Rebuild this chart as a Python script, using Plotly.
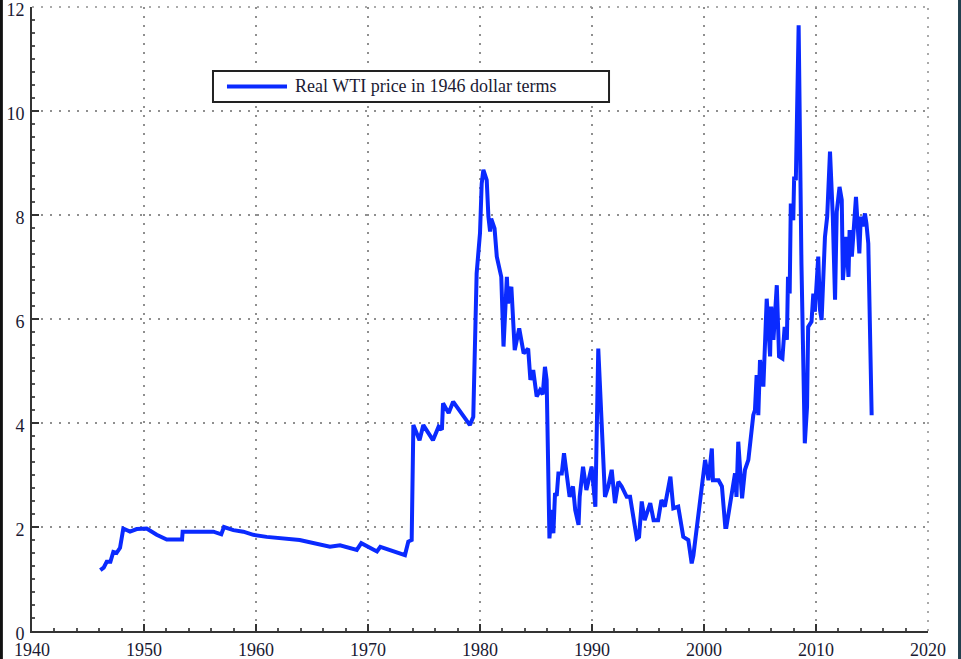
import plotly.graph_objects as go

years = [1946.1, 1946.4, 1946.67, 1947.0, 1947.26, 1947.55, 1947.86, 1948.15, 1948.75, 1949.35,
         1950.24, 1951.13, 1952.03, 1953.2, 1953.4, 1953.45, 1956.2, 1956.9, 1957.14, 1957.98,
         1958.87, 1959.76, 1960.95, 1963.9, 1965.1, 1966.6, 1967.5, 1969.0, 1969.4, 1970.8,
         1971.1, 1973.3, 1973.6, 1973.9, 1974.05, 1974.6, 1974.94, 1975.8, 1976.3, 1976.6,
         1976.7, 1977.2, 1977.6, 1978.96, 1979.1, 1979.4, 1979.7, 1980.0, 1980.15, 1980.3,
         1980.6, 1980.75, 1980.9, 1981.0, 1981.3, 1981.5, 1981.8, 1981.9, 1982.1, 1982.4,
         1982.5, 1982.8, 1983.1, 1983.5, 1983.9, 1984.3, 1984.5, 1984.75, 1985.06, 1985.36,
         1985.6, 1985.8, 1985.95, 1986.2, 1986.4, 1986.55, 1986.7, 1986.85, 1987.0, 1987.3,
         1987.5, 1987.74, 1988.0, 1988.3, 1988.5, 1988.8, 1988.9, 1989.2, 1989.5, 1989.97,
         1990.3, 1990.56, 1991.16, 1991.45, 1991.76, 1992.05, 1992.35, 1992.65, 1993.1, 1993.4,
         1993.7, 1994.0, 1994.2, 1994.44, 1994.7, 1995.2, 1995.5, 1995.9, 1996.2, 1996.5,
         1997.0, 1997.26, 1997.7, 1998.15, 1998.6, 1998.9, 1999.05, 1999.35, 1999.6, 2000.1,
         2000.4, 2000.7, 2000.8, 2001.3, 2001.6, 2001.9, 2002.0, 2002.5, 2002.77, 2002.9,
         2003.06, 2003.4, 2003.66, 2003.96, 2004.1, 2004.4, 2004.55, 2004.7, 2004.85, 2005.0,
         2005.3, 2005.6, 2005.9, 2006.0, 2006.2, 2006.5, 2006.7, 2007.0, 2007.2, 2007.4,
         2007.5, 2007.65, 2007.75, 2007.97, 2008.05, 2008.2, 2008.45, 2008.57, 2008.7, 2009.0,
         2009.2, 2009.3, 2009.6, 2009.76, 2009.9, 2010.2, 2010.36, 2010.5, 2010.8, 2011.0,
         2011.25, 2011.5, 2011.7, 2011.85, 2012.1, 2012.3, 2012.4, 2012.7, 2012.9, 2013.0,
         2013.2, 2013.57, 2013.87, 2014.0, 2014.16, 2014.37, 2014.5, 2014.67, 2014.8, 2014.97]

real_wti = [1.17, 1.22, 1.33, 1.33, 1.52, 1.50, 1.60, 1.97, 1.91, 1.96,
            1.97, 1.85, 1.76, 1.75, 1.76, 1.91, 1.91, 1.86, 2.00, 1.94,
            1.91, 1.85, 1.81, 1.75, 1.69, 1.62, 1.65, 1.56, 1.69, 1.53,
            1.62, 1.46, 1.72, 1.75, 3.96, 3.67, 3.96, 3.67, 3.93, 3.87,
            4.38, 4.19, 4.41, 4.03, 3.96, 4.12, 6.88, 7.65, 8.60, 8.87,
            8.67, 7.97, 7.68, 7.93, 7.74, 7.20, 6.94, 6.81, 5.47, 6.81,
            6.30, 6.62, 5.40, 5.82, 5.34, 5.43, 4.83, 5.02, 4.51, 4.63,
            4.55, 5.08, 4.83, 1.78, 2.33, 1.88, 2.65, 2.60, 3.03, 3.03,
            3.42, 3.03, 2.58, 2.78, 2.33, 2.04, 2.58, 3.16, 2.71, 3.16,
            2.39, 5.43, 2.58, 2.78, 3.10, 2.46, 2.87, 2.78, 2.58, 2.58,
            2.20, 1.78, 1.81, 2.49, 2.13, 2.46, 2.13, 2.13, 2.52, 2.39,
            2.97, 2.36, 2.39, 1.81, 1.75, 1.30, 1.45, 1.94, 2.46, 3.29,
            2.90, 3.51, 2.90, 2.90, 2.78, 2.00, 2.00, 2.71, 3.03, 2.58,
            3.64, 2.55, 3.10, 3.29, 3.54, 4.15, 4.25, 4.92, 4.15, 5.21,
            4.70, 6.39, 5.28, 6.24, 5.60, 6.65, 5.28, 5.24, 5.85, 5.60,
            6.81, 6.49, 8.22, 7.90, 8.74, 8.67, 11.65, 9.51, 7.07, 3.61,
            4.31, 5.85, 5.95, 6.49, 6.14, 7.20, 6.17, 5.98, 7.58, 7.97,
            9.22, 7.97, 6.37, 8.06, 8.54, 8.29, 6.75, 7.58, 6.81, 7.71,
            7.20, 8.35, 7.26, 7.97, 7.78, 8.03, 7.84, 7.45, 6.20, 4.15]

x_ticks = [1940, 1950, 1960, 1970, 1980, 1990, 2000, 2010, 2020]
y_ticks = [0, 2, 4, 6, 8, 10, 12]
series_name = "Real WTI price in 1946 dollar terms"

LINE_COLOR = "#0a2aff"
FONT = "Liberation Serif, Times New Roman, serif"
TEXT_COLOR = "#1a1a33"
GRID_COLOR = "#8f8f8f"
GRID_DASH = "2px,7px"

fig = go.Figure()
fig.add_trace(go.Scatter(x=years, y=real_wti, mode="lines", name=series_name,
                         line=dict(color=LINE_COLOR, width=4), showlegend=False))

axis_common = dict(
    showline=True, linecolor="#333333", linewidth=2,
    ticks="inside", ticklen=7, tickwidth=2, tickcolor="#333333",
    showgrid=True, gridcolor=GRID_COLOR, griddash=GRID_DASH, gridwidth=1.5,
    zeroline=False, mirror=False, automargin=False,
    ticklabeloverflow="allow",
    tickfont=dict(family=FONT, size=18, color=TEXT_COLOR),
)

fig.update_xaxes(range=[1940, 2020], tickvals=x_ticks, ticktext=[str(v) for v in x_ticks],
                 minor=dict(ticks="inside", ticklen=3, tickcolor="#555555", dtick=2, showgrid=False),
                 ticklabelstandoff=1, **axis_common)
fig.update_yaxes(range=[0, 12], tickvals=y_ticks, ticktext=[str(v) for v in y_ticks],
                 minor=dict(ticks="inside", ticklen=3, tickcolor="#555555", dtick=0.25, showgrid=False),
                 ticklabelshift=3, ticklabelstandoff=2, **axis_common)

shapes = [
    # dotted grid lines along the top (y=12) and right (x=2020) edges
    dict(type="line", xref="paper", yref="paper", x0=0, x1=1, y0=1, y1=1,
         line=dict(color=GRID_COLOR, width=1.5, dash=GRID_DASH), layer="below"),
    dict(type="line", xref="paper", yref="paper", x0=1, x1=1, y0=0, y1=1,
         line=dict(color=GRID_COLOR, width=1.5, dash=GRID_DASH), layer="below"),
    # legend drawn as box + sample line + text (paper coords)
    dict(type="rect", xref="paper", yref="paper", x0=0.2020, x1=0.6440, y0=0.8478, y1=0.8974,
         line=dict(color="#222222", width=2), fillcolor="white", layer="above"),
    dict(type="line", xref="paper", yref="paper", x0=0.2176, x1=0.2846, y0=0.8726, y1=0.8726,
         line=dict(color=LINE_COLOR, width=4), layer="above"),
    # dark frame strips at the image edges
    dict(type="rect", xref="paper", yref="paper", x0=-0.04, x1=-0.0325, y0=-0.06, y1=1.02,
         line=dict(width=0), fillcolor="#111111", layer="above"),
    dict(type="rect", xref="paper", yref="paper", x0=1.0335, x1=1.05, y0=-0.06, y1=1.02,
         line=dict(width=0), fillcolor="#23404f", layer="above"),
]
annotations = [
    dict(text=series_name, xref="paper", yref="paper", x=0.2913, y=0.8726,
         xanchor="left", yanchor="middle", showarrow=False,
         font=dict(family=FONT, size=18, color=TEXT_COLOR)),
]

fig.update_layout(
    width=961, height=659,
    margin=dict(l=32, r=33, t=7, b=28, autoexpand=False),
    paper_bgcolor="white", plot_bgcolor="white",
    shapes=shapes, annotations=annotations,
    showlegend=False,
)

fig.write_html("out.html", config={"displayModeBar": False},
               post_script="document.body.style.margin='0';document.body.style.overflow='hidden';")
